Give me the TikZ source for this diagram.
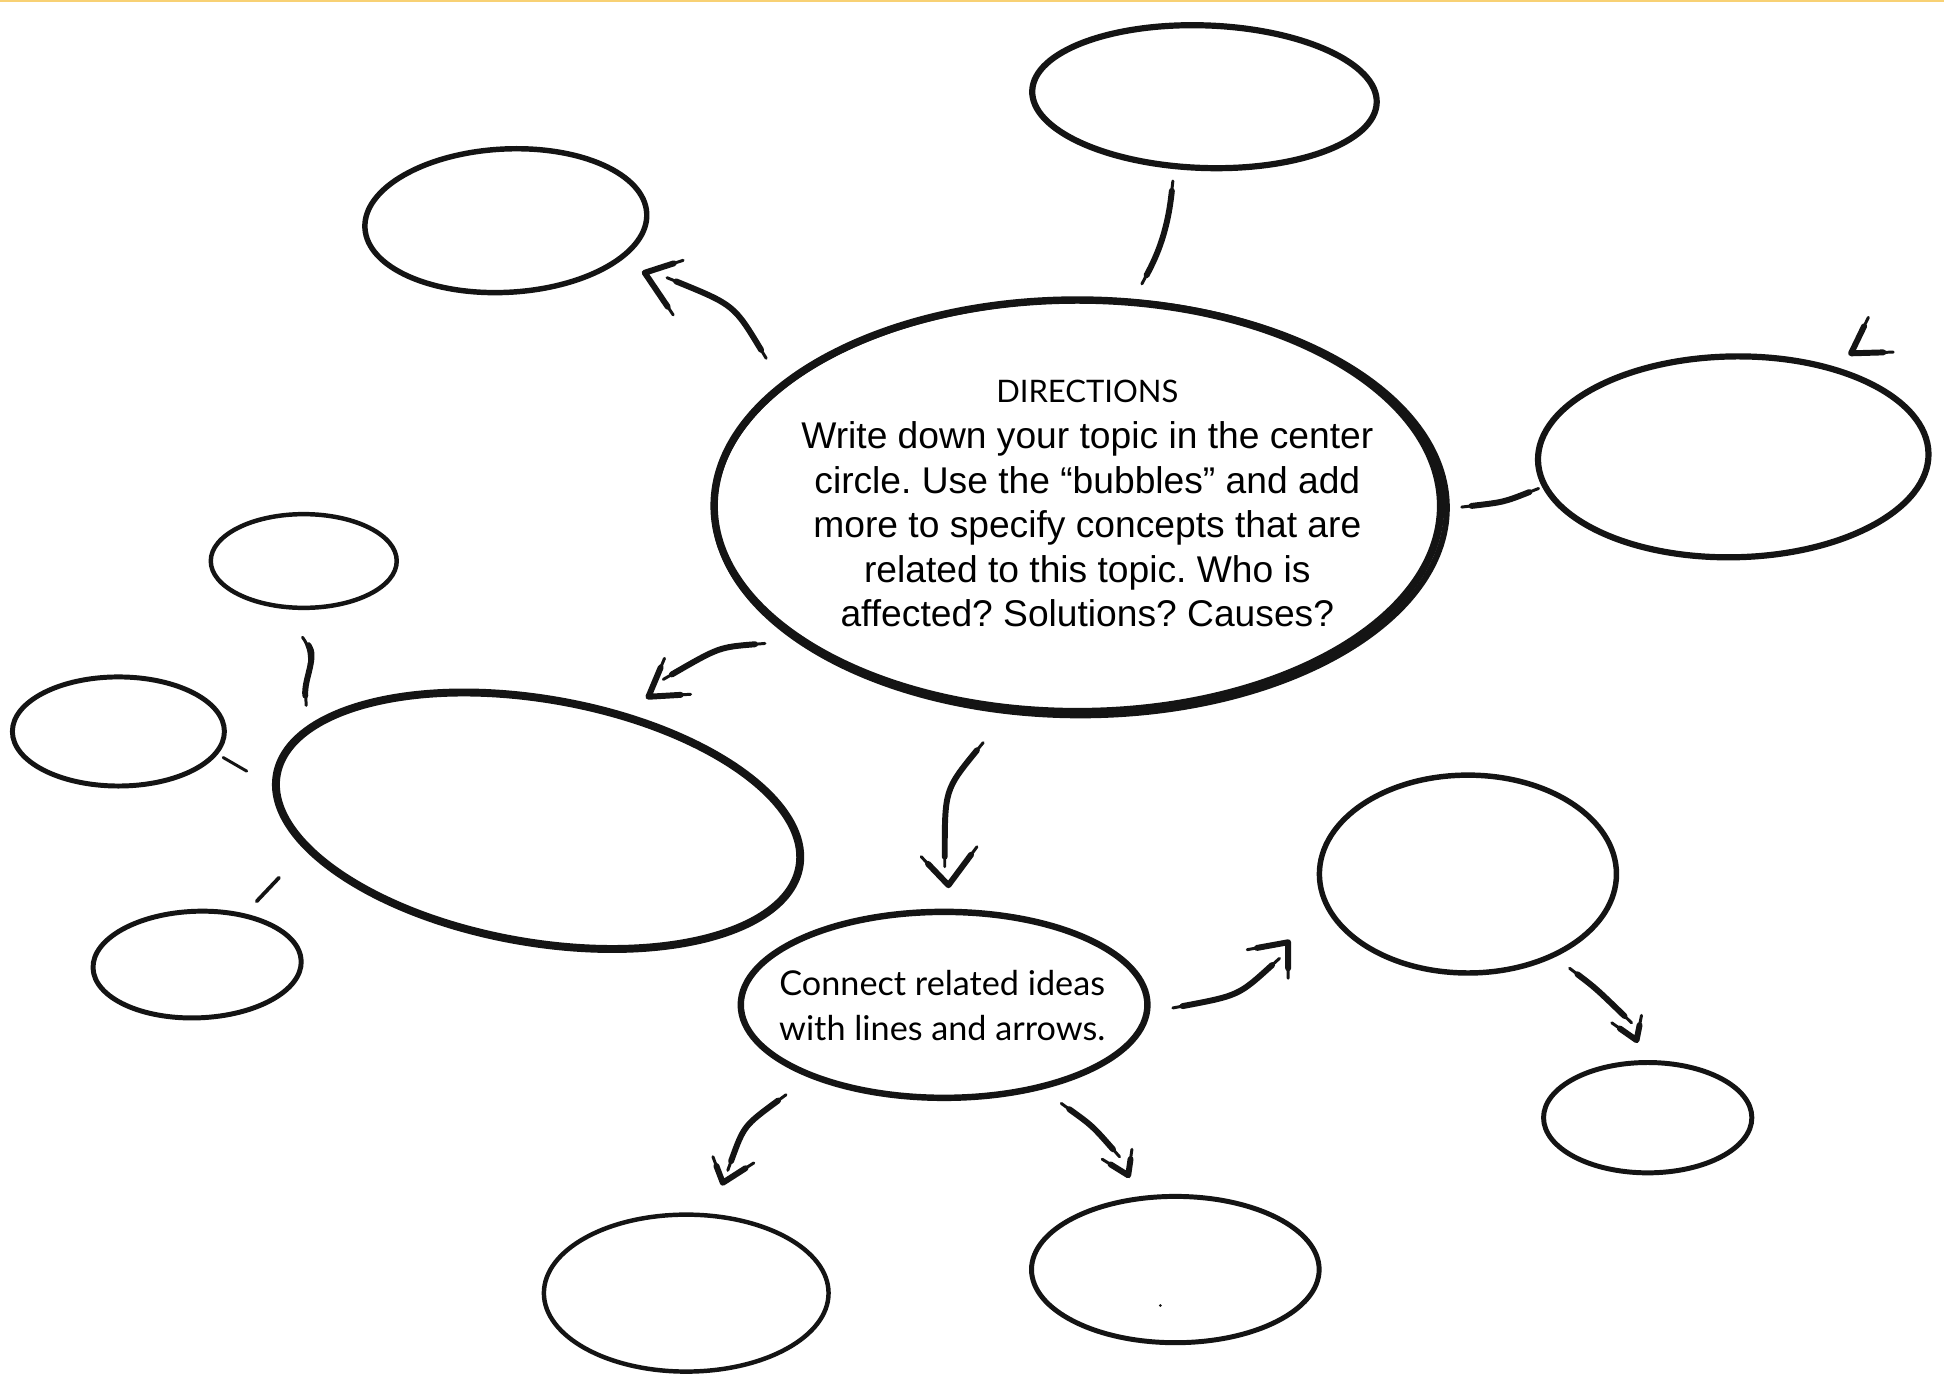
\documentclass[tikz,border=0pt]{standalone}
\usepackage{fontspec}
\setmainfont{Liberation Sans}
\newfontfamily\gillfont{Lato}
\usetikzlibrary{shapes.geometric}
\definecolor{ink}{HTML}{141414}
\definecolor{topline}{HTML}{F8D174}
\tikzset{
  bubble/.style={draw=ink, ellipse, inner sep=0pt, outer sep=0pt},
  brushthin/.style={draw=ink, line width=1.2pt, line cap=round, line join=round},
  brushthick/.style={draw=ink, line width=2.4pt, line cap=round, line join=round, shorten <=4pt, shorten >=4pt},
}
\newcommand\brushstroke[1]{\path[brushthin] #1; \path[brushthick] #1;}
\frenchspacing
\begin{document}
\begin{tikzpicture}[x=0.5pt,y=-0.5pt]
\useasboundingbox (0,0) rectangle (1568,1111);
\fill[white] (0,0) rectangle (1568,1111);
\fill[topline] (0,0) rectangle (1568,1.4);

% bubbles
\node[bubble, line width=2.5pt, minimum width=139pt, minimum height=57.5pt, rotate=-2] (bubTop) at (971.5,78) {};
\node[bubble, line width=2.2pt, minimum width=113.8pt, minimum height=57.8pt, rotate=3] (bubUL) at (408,178) {};
\node[bubble, line width=3pt, minimum width=293pt, minimum height=166pt] (bubCenter) at (869,408) {};
\draw[ink, line width=2.4pt] ([shift={(2.5,1.5)}]bubCenter.center) ellipse [x radius=295.5, y radius=167.5];
\node[bubble, line width=2.5pt, minimum width=157.5pt, minimum height=81pt, rotate=1] (bubRight) at (1398,368.5) {};
\node[bubble, line width=1.8pt, minimum width=75pt, minimum height=37.8pt] (bubLS) at (245,452.5) {};
\node[bubble, line width=2pt, minimum width=85.5pt, minimum height=44pt] (bubLM) at (95.5,590) {};
\node[bubble, line width=3.2pt, minimum width=214pt, minimum height=98pt, rotate=-10] (bubLB) at (434,662) {};
\node[bubble, line width=2pt, minimum width=84pt, minimum height=43pt, rotate=2] (bubLL) at (159,778) {};
\node[bubble, line width=2.6pt, minimum width=164pt, minimum height=75pt] (bubConn) at (761.5,810.5) {};
\node[bubble, line width=2.2pt, minimum width=119.8pt, minimum height=79.8pt] (bubRM) at (1184,705) {};
\node[bubble, line width=2pt, minimum width=84pt, minimum height=44.5pt] (bubRS) at (1329,901.5) {};
\node[bubble, line width=1.8pt, minimum width=114.8pt, minimum height=63.3pt] (bubBL) at (553.5,1043) {};
\node[bubble, line width=2pt, minimum width=116pt, minimum height=59pt] (bubBR) at (948,1024) {};
\fill[ink] (936,1053) circle [radius=0.6pt];

% texts
\node[font=\gillfont\fontsize{12.5}{15}\selectfont] (dirTitle) at (877,316) {DIRECTIONS};
\node[font=\fontsize{15}{18}\selectfont, align=center] (dirBody) at (877,423)
  {Write down your topic in the center\\circle. Use the “bubbles” and add\\more to specify concepts that are\\related to this topic. Who is\\affected? Solutions? Causes?};
\node[font=\gillfont\fontsize{13.8}{18.5}\selectfont, align=center] (connText) at (760,811)
  {Connect related ideas\\with lines and arrows.};

% a: top bubble to center (line)
\coordinate (aS) at (946,146); \coordinate (aE) at (921,229);
\brushstroke{(aS) .. controls (942,185) and (934,205) .. (aE)}

% b: center to upper-left (arrow)
\coordinate (bS) at (618,289); \coordinate (bE) at (538,224);
\brushstroke{(bS) .. controls (592,246) .. (bE)}
\coordinate (bT) at (520,220); \coordinate (bA1) at (551,210); \coordinate (bA2) at (543,254);
\brushstroke{(bA1) -- (bT) -- (bA2)}

% c: center to right (line)
\coordinate (cS) at (1179,409); \coordinate (cE) at (1241,394);
\brushstroke{(cS) .. controls (1213,405) .. (cE)}

% d: lone arrowhead top right
\coordinate (dT) at (1493,285); \coordinate (dA1) at (1507,256); \coordinate (dA2) at (1527,284);
\brushstroke{(dA1) -- (dT) -- (dA2)}

% e: center to left big (arrow)
\coordinate (eS) at (617,519); \coordinate (eE) at (535,548);
\brushstroke{(eS) .. controls (580,522) .. (eE)}
\coordinate (eT) at (523,562); \coordinate (eA1) at (536,531); \coordinate (eA2) at (557,560);
\brushstroke{(eA1) -- (eT) -- (eA2)}

% f, g, h: left big to small left bubbles
\coordinate (fS) at (244,514); \coordinate (fE) at (247,569);
\brushstroke{(fS) .. controls (256,530) and (245,548) .. (fE)}
\coordinate (gS) at (180,611); \coordinate (gE) at (199,622);
\path[brushthin] (gS) -- (gE);
\coordinate (hS) at (225,708); \coordinate (hE) at (207,727);
\path[brushthin, line width=1.5pt] (hS) -- (hE);

% i: center to connect bubble (arrow)
\coordinate (iS) at (793,599); \coordinate (iE) at (762,699);
\brushstroke{(iS) .. controls (762,637) .. (iE)}
\coordinate (iT) at (765,714); \coordinate (iA1) at (743,691); \coordinate (iA2) at (788,683);
\brushstroke{(iA1) -- (iT) -- (iA2)}

% j: connect bubble to right-mid (arrow)
\coordinate (jS) at (946,813); \coordinate (jE) at (1032,773);
\brushstroke{(jS) .. controls (999,803) .. (jE)}
\coordinate (jT) at (1039,760); \coordinate (jA1) at (1006,766); \coordinate (jA2) at (1039,789);
\brushstroke{(jA1) -- (jT) -- (jA2)}

% k: right-mid to right-small (arrow)
\coordinate (kS) at (1266,781); \coordinate (kE) at (1316,825);
\brushstroke{(kS) .. controls (1287,797) .. (kE)}
\coordinate (kT) at (1320,839); \coordinate (kA1) at (1300,825); \coordinate (kA2) at (1324,819);
\brushstroke{(kA1) -- (kT) -- (kA2)}

% l: connect bubble to bottom-left (arrow)
\coordinate (lS) at (634,883); \coordinate (lE) at (587,944);
\brushstroke{(lS) .. controls (600,908) .. (lE)}
\coordinate (lT) at (583,954); \coordinate (lA1) at (575,933); \coordinate (lA2) at (608,938);
\brushstroke{(lA1) -- (lT) -- (lA2)}

% m: connect bubble to bottom-right (arrow)
\coordinate (mS) at (856,890); \coordinate (mE) at (903,933);
\brushstroke{(mS) .. controls (881,908) .. (mE)}
\coordinate (mT) at (910,948); \coordinate (mA1) at (889,935); \coordinate (mA2) at (913,927);
\brushstroke{(mA1) -- (mT) -- (mA2)}
\end{tikzpicture}
\end{document}
